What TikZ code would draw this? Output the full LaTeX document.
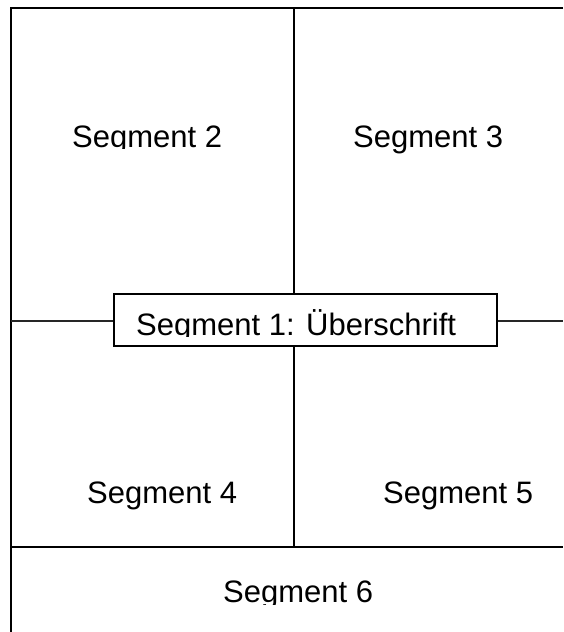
\documentclass[tikz,border=0pt]{standalone}
\usepackage{fontspec}
\setmainfont{Liberation Sans}
\tikzset{
  thick line/.style={line width=2pt, black},
  thin line/.style={line width=1.1pt, black!85},
  seglabel/.style={anchor=base west, inner sep=0pt, font=\fontsize{31}{36}\selectfont},
  headbox/.style={draw, line width=1.3pt, fill=white, minimum width=383pt, minimum height=52pt, inner sep=0pt}
}
\begin{document}
\begin{tikzpicture}[x=1pt,y=-1pt]
\useasboundingbox (0,0) rectangle (563,632);
\coordinate (tl) at (10.5,7.5);
\coordinate (tr) at (563,7.5);
\coordinate (bl) at (10.5,632);
\coordinate (ml) at (10.5,321);
\coordinate (mr) at (563,321);
\coordinate (dl) at (10.5,547);
\coordinate (dr) at (563,547);
\coordinate (ct) at (294,7.5);
\coordinate (cb) at (294,547);
% frame
\draw[thick line] (tr) -- (tl) -- (bl);
\draw[thin line] (ml) -- (mr);
\draw[thick line] (dl) -- (dr);
\draw[line width=1.5pt] (ct) -- (cb);
% heading box
\node[headbox] (box) at (305.5,320) {};
% labels
\begin{scope}
\clip (0,0) rectangle (563,148);
\node[seglabel] (s2) at (72,147) {Segment 2};
\end{scope}
\node[seglabel] (s3) at (353,147) {Segment 3};
\begin{scope}
\clip (0,0) rectangle (563,336);
\node[seglabel] (s1) at (136,335) {Segment 1: Überschrift};
\end{scope}
\node[seglabel] (s4) at (87,503) {Segment 4};
\node[seglabel] (s5) at (383,503) {Segment 5};
\begin{scope}
\clip (0,0) rectangle (563,604);
\node[seglabel] (s6) at (223,602) {Segment 6};
\end{scope}
\end{tikzpicture}
\end{document}
